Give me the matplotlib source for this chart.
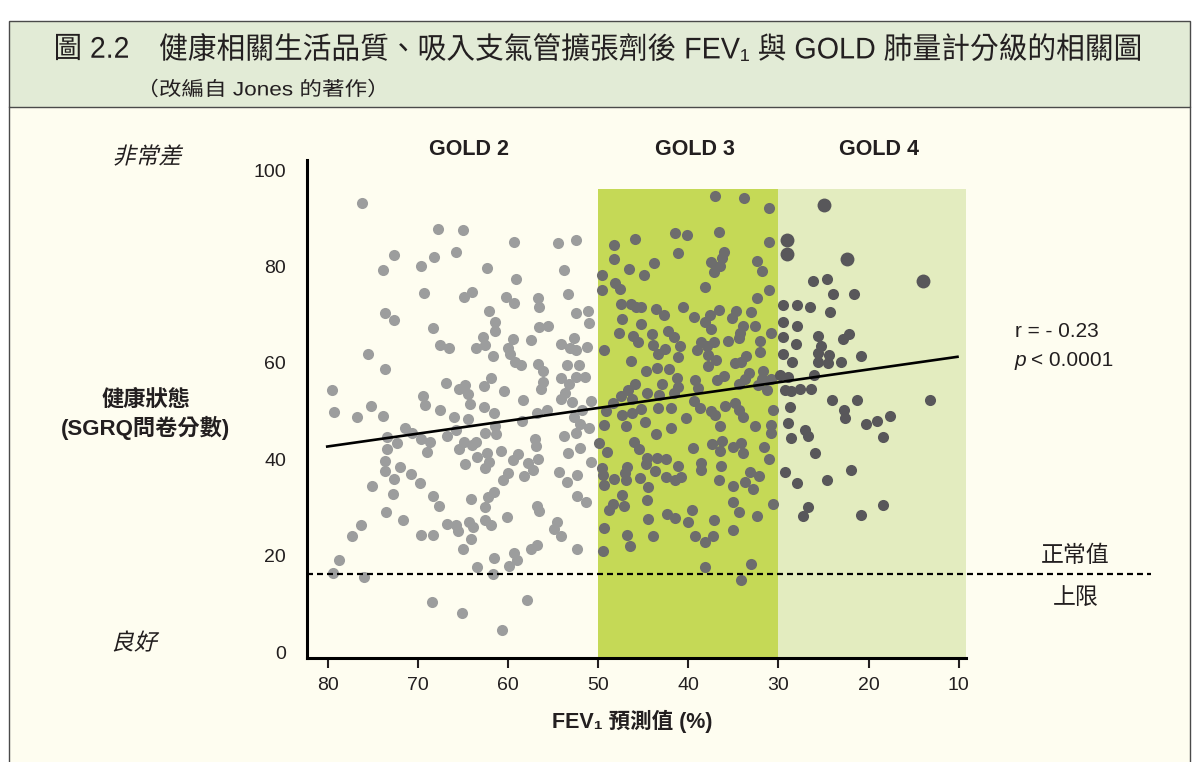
import matplotlib
matplotlib.use('Agg')
import matplotlib.pyplot as plt
from matplotlib.patches import Rectangle, PathPatch
from matplotlib.textpath import TextPath
from matplotlib.font_manager import FontProperties
from matplotlib.transforms import Affine2D

plt.rcParams['font.family'] = ['Liberation Sans', 'Noto Sans CJK TC', 'DejaVu Sans']

# ---------------- data ----------------
x_ticks = [80, 70, 60, 50, 40, 30, 20, 10]
y_ticks = [0, 20, 40, 60, 80, 100]
gold_names = ['GOLD 2', 'GOLD 3', 'GOLD 4']
gold3_band = (50, 30)
gold4_band = (30, 10)
band_top = 96
normal_limit = 16.2
trend_x = [80.2, 10.0]
trend_y = [42.6, 61.3]

gold2_x = [76.2, 67.8, 65.0, 72.6, 73.9, 69.7, 68.2, 65.8, 69.35, 64.9, 64.0, 73.6, 72.7, 68.3, 67.6, 66.6, 63.55,
           75.5, 73.7, 79.5, 66.9, 65.4, 64.8, 64.4, 69.4, 69.2, 67.6, 64.2, 79.25, 75.2, 73.9, 76.8, 66.0, 64.4,
           71.4, 70.6, 69.6, 73.4, 72.3, 73.4, 68.7, 69.0, 66.8, 65.8, 64.9, 65.4, 64.0, 63.6, 63.4, 73.7, 73.6,
           72.7, 72.0, 70.8, 69.8, 75.1, 72.8, 68.3, 67.7, 64.1, 64.8, 73.5, 71.6, 76.3, 77.3, 69.6, 68.3, 66.8,
           65.8, 65.5, 64.3, 63.9, 64.1, 65.0, 78.7, 79.4, 76.0, 63.4, 68.4, 65.1,
           59.3, 54.5, 52.5, 62.3, 59.1, 53.8, 60.2, 59.3, 56.7, 56.6, 53.3, 62.1, 61.4, 61.5, 52.5, 51.1, 51.0,
           56.6, 55.6, 62.8, 62.6, 59.4, 57.4, 52.7, 54.1, 53.1, 52.5, 51.2, 60.0, 59.8, 61.7, 59.2, 58.6, 56.7,
           53.5, 52.1, 56.1, 61.9, 62.7, 56.1, 56.3, 54.1, 52.5, 51.5, 53.2, 60.5, 58.3, 54.1, 53.7, 52.9, 50.8,
           62.7, 61.6, 56.8, 55.7, 51.8,
           58.5, 62.6, 61.3, 61.5, 62.3, 62.1, 62.5, 60.8, 59.4, 58.9, 57.0, 56.9, 57.8, 57.2, 56.7, 58.2, 60.0,
           60.6, 53.8, 52.5, 51.0, 52.7, 52.0, 53.4, 52.0, 50.8, 54.3, 53.5, 52.3, 61.6, 62.2, 62.5, 56.8, 56.6,
           52.4, 51.3, 60.1, 62.5, 61.9, 54.6, 54.9, 54.1, 56.8, 57.5, 52.4, 59.3, 59.0, 61.6, 59.9, 61.7, 57.9,
           60.7]
gold2_y = [93.1, 87.7, 87.6, 82.4, 79.3, 80.2, 82.0, 83.1, 74.4, 73.7, 74.7, 70.3, 69.0, 67.2, 63.7, 63.0, 63.0,
           61.8, 58.7, 54.4, 55.9, 54.6, 55.4, 53.5, 53.1, 51.2, 50.2, 51.4, 49.8, 51.1, 49.0, 48.7, 48.7, 48.3,
           46.4, 45.5, 44.3, 44.7, 43.3, 42.1, 43.5, 41.6, 44.8, 46.1, 43.6, 42.1, 42.9, 43.6, 40.5, 39.7, 37.6,
           36.0, 38.3, 36.9, 35.1, 34.4, 32.8, 32.4, 30.2, 31.7, 39.1, 29.0, 27.4, 26.3, 24.1, 24.3, 24.3, 26.5,
           26.3, 25.2, 27.0, 25.9, 23.4, 21.4, 19.1, 16.3, 15.6, 17.6, 10.3, 8.0,
           85.0, 84.8, 85.5, 79.6, 77.4, 79.2, 73.7, 72.5, 73.4, 71.6, 74.2, 70.8, 68.5, 66.7, 70.3, 70.8, 68.2,
           67.4, 67.7, 65.4, 63.7, 64.9, 64.7, 65.1, 63.9, 63.0, 62.6, 63.2, 63.0, 61.8, 61.5, 60.2, 59.5, 59.7,
           59.5, 59.5, 58.3, 56.8, 55.2, 56.1, 54.6, 56.8, 57.0, 57.0, 55.6, 54.2, 52.3, 52.5, 53.7, 51.9, 52.1,
           50.9, 49.7, 49.5, 50.3, 50.2,
           48.0, 45.4, 45.2, 46.8, 41.2, 39.5, 38.1, 41.7, 39.8, 41.0, 44.3, 42.8, 39.2, 37.8, 40.0, 36.6, 37.1,
           35.7, 44.9, 45.5, 46.4, 48.8, 47.4, 41.4, 42.4, 39.4, 37.3, 35.3, 36.7, 33.3, 32.1, 30.1, 30.2, 29.3,
           32.4, 31.2, 28.1, 27.4, 26.3, 26.9, 25.5, 24.1, 22.2, 21.3, 21.3, 20.6, 19.1, 19.6, 17.8, 16.2, 10.8,
           4.6]

gold3_x = [48.2, 45.9, 48.3, 46.6, 44.9, 49.6, 48.1, 47.6, 49.6, 47.5, 46.4, 45.8, 45.3, 47.4, 45.3, 47.7, 46.1,
           45.6, 49.3, 46.4, 44.7, 45.9, 46.7, 47.5, 46.3, 44.6, 48.4, 49.1, 47.4, 46.3, 45.2,
           49.4, 46.9, 44.8, 49.9, 49.0, 46.0, 45.5, 49.6, 49.5, 49.3, 48.3, 46.8, 47.0, 46.9, 45.4, 44.7, 44.5,
           47.4, 47.1, 48.4, 48.8, 44.6, 49.4, 46.8, 46.5, 49.5, 44.5,
           37.0, 33.8, 31.0, 41.5, 40.2, 36.6, 31.0, 41.1, 43.8, 36.0, 36.3, 37.5, 36.5, 37.2, 32.4, 31.8, 38.1,
           31.0, 32.4, 43.6, 42.7, 40.6, 39.4, 37.6, 38.2, 36.6, 37.5, 34.7, 35.2, 33.1, 33.9, 34.3, 34.4, 32.6,
           30.8, 44.0, 42.3, 41.6, 43.9, 42.6, 43.4, 40.9, 41.2, 38.6, 37.2, 39.0, 37.9, 37.8, 36.9, 37.8, 35.6,
           32.1, 32.0, 33.6, 34.8, 34.2, 43.5, 42.1, 41.3, 42.9, 41.1, 43.3, 41.6, 39.3, 38.9, 36.8, 36.0, 34.4,
           33.3, 33.7, 31.7, 31.8, 30.8, 32.3, 31.3, 39.4, 38.7, 37.5, 37.0, 35.9, 34.8, 34.4, 43.4, 41.9, 40.3,
           30.6, 33.9,
           36.5, 32.6, 30.8, 30.8, 43.6, 41.9, 44.6, 43.5, 42.5, 43.7, 42.5, 41.5, 40.8, 41.1, 39.5, 38.6, 38.6,
           37.4, 36.3, 36.5, 36.4, 36.6, 35.1, 34.2, 33.9, 31.6, 31.0, 33.2, 32.2, 33.7, 32.8, 35.1, 35.0, 34.4,
           30.6, 32.4, 39.6, 40.0, 42.4, 41.5, 43.9, 39.3, 38.1, 37.3, 37.2, 35.0, 38.2, 33.0, 34.2]
gold3_y = [84.5, 85.8, 81.5, 79.5, 78.3, 78.3, 76.6, 75.3, 75.1, 72.3, 72.2, 71.6, 71.6, 69.1, 68.0, 66.3, 65.6,
           64.4, 62.7, 60.4, 58.4, 55.6, 54.4, 53.1, 52.6, 53.7, 51.7, 50.1, 49.2, 49.5, 50.4,
           47.1, 46.9, 47.7, 43.3, 41.6, 43.6, 42.1, 38.1, 36.7, 34.6, 36.0, 38.3, 37.1, 35.7, 36.1, 39.1, 34.2,
           32.6, 30.4, 30.7, 29.5, 31.5, 25.7, 24.2, 22.1, 20.9, 27.7,
           94.6, 94.3, 92.2, 87.0, 86.5, 87.2, 85.0, 82.9, 80.8, 83.1, 81.7, 81.0, 80.1, 78.9, 81.2, 79.1, 75.7,
           75.2, 73.4, 71.2, 69.9, 71.6, 69.6, 69.9, 68.5, 71.0, 67.0, 70.8, 69.4, 70.6, 67.7, 66.3, 65.1, 67.7,
           66.3, 66.0, 66.6, 65.3, 63.8, 62.8, 61.8, 63.5, 61.3, 64.4, 64.4, 62.7, 63.4, 61.6, 60.7, 59.3, 64.5,
           64.5, 62.3, 61.5, 59.9, 60.2, 59.0, 58.7, 56.8, 55.6, 54.9, 53.3, 53.8, 56.4, 54.7, 56.4, 57.3, 55.6,
           57.9, 56.6, 58.3, 56.6, 56.6, 55.4, 54.4, 52.1, 50.6, 50.0, 49.2, 51.0, 51.7, 50.2, 50.7, 50.7, 48.5,
           50.3, 48.7,
           46.8, 46.8, 47.1, 45.4, 45.2, 46.5, 40.3, 40.3, 40.0, 37.6, 36.4, 35.6, 36.4, 38.7, 42.3, 39.3, 37.8,
           43.1, 43.8, 41.8, 38.7, 35.8, 42.6, 43.3, 41.4, 42.6, 40.0, 37.4, 36.6, 35.2, 33.8, 34.5, 31.1, 29.0,
           30.7, 28.2, 29.5, 26.9, 28.6, 27.9, 24.1, 24.1, 22.8, 24.1, 27.4, 25.3, 17.7, 18.2, 15.0]

gold4_x = [26.2, 29.5, 27.9, 26.5, 29.5, 27.9, 29.5, 28.1, 29.5, 28.5, 29.8, 29.0, 29.3, 28.6, 27.6, 26.4, 26.1,
           28.7, 29.0, 28.6, 27.1, 26.7, 26.0, 29.3, 27.9, 26.7, 27.3,
           24.6, 23.9, 21.6, 24.3, 25.6, 25.3, 25.6, 24.4, 25.6, 24.5, 22.8, 22.2, 23.1, 20.8, 24.1, 21.3, 13.2,
           22.7, 22.6, 20.3, 19.1, 17.6, 18.4, 22.0, 24.6, 18.4, 20.9]
gold4_y = [77.0, 72.0, 72.0, 71.6, 68.5, 67.6, 65.3, 64.0, 61.8, 60.1, 57.5, 57.1, 54.4, 54.2, 54.5, 54.5, 57.5,
           50.8, 47.6, 44.5, 46.1, 44.8, 41.2, 37.4, 35.0, 30.1, 28.2,
           77.5, 74.2, 74.2, 70.5, 65.6, 63.5, 62.0, 61.6, 60.2, 60.0, 64.9, 66.0, 60.2, 61.5, 52.2, 52.2, 52.2,
           50.2, 48.5, 47.4, 48.0, 49.0, 44.7, 37.8, 35.7, 30.5, 28.4]
gold4_big_x = [29.1, 29.1, 24.9, 22.4, 14.0]
gold4_big_y = [85.6, 82.6, 92.7, 81.5, 77.0]

# ---------------- figure ----------------
W, H = 1197, 762
fig = plt.figure(figsize=(W / 100, H / 100), dpi=100)
fig.patch.set_facecolor('white')


def fx(px):
    return px / W


def fy(py):
    return 1 - py / H


tc = '#231f20'
edge = '#4a4a4a'
fig.add_artist(Rectangle((fx(9), fy(762)), fx(1190) - fx(9), fy(21) - fy(762),
                         transform=fig.transFigure, facecolor='#fefdf0', edgecolor='none', zorder=0))
fig.add_artist(Rectangle((fx(9), fy(107)), fx(1190) - fx(9), fy(21) - fy(107),
                         transform=fig.transFigure, facecolor='#e2ebd6', edgecolor=edge, lw=1.0, zorder=1))
for xx in (9, 1190):
    fig.add_artist(plt.Line2D([fx(xx), fx(xx)], [fy(107), 0], transform=fig.transFigure,
                              color=edge, lw=1.0, zorder=1))


def path_text(s, x, cy, size, family=('Liberation Sans', 'Noto Sans CJK TC', 'DejaVu Sans'),
              width=None, sx=1.0, skew=0, ha='left', weight='normal', color=tc):
    fp = FontProperties(family=list(family), size=size, weight=weight)
    tp = TextPath((0, 0), s, prop=fp)
    bb = tp.get_extents()
    sc = 100 / 72
    if width is not None:
        sx = width / (bb.width * sc)
    tr = Affine2D().translate(-bb.x0, -(bb.y0 + bb.y1) / 2).skew_deg(skew, 0).scale(sc * sx, sc)
    w = bb.width * sc * sx
    left = x - w / 2 if ha == 'center' else x
    tr = tr.translate(left, H - cy)
    fig.add_artist(PathPatch(tp, transform=tr, facecolor=color, edgecolor='none', zorder=5))


# title block
path_text('圖 2.2', 56, 47, 21.5, width=72)
path_text('健康相關生活品質、吸入支氣管擴張劑後 FEV₁ 與 GOLD 肺量計分級的相關圖', 160, 47, 21.5, width=980)
path_text('（改編自 Jones 的著作）', 152, 88, 14, width=222)

ax = fig.add_axes([fx(307), fy(658), fx(966) - fx(307), fy(160) - fy(658)])
ax.patch.set_alpha(0)
ax.set_xlim(82.3, 9.2)
ax.set_ylim(-1.24, 102.1)
y0 = ax.get_ylim()[0]
xr = ax.get_xlim()[1]

ax.fill_between(list(gold3_band), y0, band_top, color='#c5d956', lw=0, zorder=0)
ax.fill_between([gold4_band[0], xr], y0, band_top, color='#e3ecbf', lw=0, zorder=0)

ax.scatter(gold2_x, gold2_y, s=64, color='#9c9d9d', lw=0, zorder=3)
ax.scatter(gold3_x, gold3_y, s=64, color='#6d6d6d', lw=0, zorder=3)
ax.scatter(gold4_x, gold4_y, s=64, color='#58575a', lw=0, zorder=3)
ax.scatter(gold4_big_x, gold4_big_y, s=100, color='#58575a', lw=0, zorder=3)

ax.plot(trend_x, trend_y, color='black', lw=1.9, zorder=4, solid_capstyle='butt')
ax.plot([82.3, -11.3], [normal_limit, normal_limit], color='black', lw=1.6,
        ls=(0, (2.7, 1.8)), clip_on=False, zorder=4)

for s in ('top', 'right'):
    ax.spines[s].set_visible(False)
for s in ('left', 'bottom'):
    ax.spines[s].set_linewidth(2.2)
    ax.spines[s].set_color('black')

ax.set_xticks(x_ticks)
ax.set_yticks(y_ticks)
ax.tick_params(axis='x', length=7, width=1.5, direction='out', labelsize=14, pad=7, colors=tc)
ax.tick_params(axis='y', length=0, pad=15, labelsize=14, colors=tc)

gold_label_x = [64.3, 39.3, 18.85]
for name, gx in zip(gold_names, gold_label_x):
    ax.text(gx, 104.2, name, ha='center', va='center', fontsize=15.5, fontweight='bold',
            color=tc, clip_on=False)


def skew_text(s, cx, cy, size, color=tc, skew=14):
    fp = FontProperties(family=['Noto Sans CJK TC'], size=size)
    tp = TextPath((0, 0), s, prop=fp)
    bb = tp.get_extents()
    sc = 100 / 72
    tr = (Affine2D().translate(-(bb.x0 + bb.x1) / 2, -(bb.y0 + bb.y1) / 2)
          .skew_deg(skew, 0).scale(sc).translate(cx, H - cy))
    fig.add_artist(PathPatch(tp, transform=tr, facecolor=color, edgecolor='none'))


skew_text('非常差', 149, 155, 16.5)
skew_text('良好', 137, 641, 16.5)

fig.text(fx(146), fy(415), '健康狀態\n(SGRQ問卷分數)', ha='center', va='center', fontsize=16,
         fontweight='bold', linespacing=1.25, color=tc)
fig.text(fx(632), fy(721), 'FEV₁ 預測值 (%)', ha='center', va='center', fontsize=15.5,
         fontweight='bold', color=tc)
fig.text(fx(1015), fy(331), 'r = - 0.23', ha='left', va='center', fontsize=15, color=tc)
fig.text(fx(1015), fy(360), 'p', ha='left', va='center', fontsize=15, style='italic', color=tc)
fig.text(fx(1031), fy(360), '< 0.0001', ha='left', va='center', fontsize=15, color=tc)
fig.text(fx(1075), fy(556), '正常值', ha='center', va='center', fontsize=16.5, color=tc)
fig.text(fx(1076), fy(597), '上限', ha='center', va='center', fontsize=16.5, color=tc)

fig.savefig('out.png', dpi=100)
